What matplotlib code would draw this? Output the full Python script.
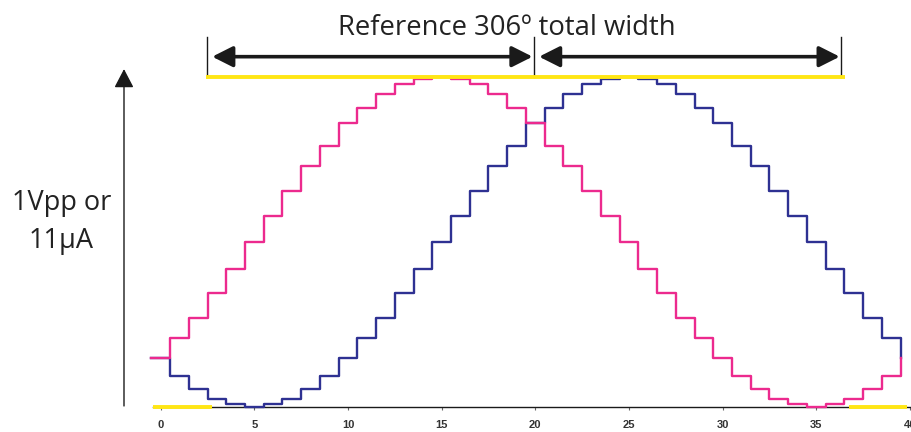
import numpy as np
import matplotlib
matplotlib.use("Agg")
import matplotlib.pyplot as plt

# ---- data (normalised amplitude, 1 = 1Vpp / 11uA) ----
sample_index = list(range(41))
pink_values = [0.15, 0.21, 0.27, 0.345, 0.42, 0.50, 0.58, 0.655, 0.73, 0.79,
               0.86, 0.905, 0.95, 0.98, 0.995, 1.0, 0.995, 0.98, 0.95, 0.905,
               0.86, 0.79, 0.73, 0.655, 0.58, 0.50, 0.42, 0.345, 0.27, 0.21,
               0.15, 0.095, 0.055, 0.025, 0.01, 0.0, 0.01, 0.025, 0.055, 0.095,
               0.15]
blue_values = [0.15, 0.095, 0.055, 0.025, 0.01, 0.0, 0.01, 0.025, 0.055, 0.095,
               0.15, 0.21, 0.27, 0.345, 0.42, 0.50, 0.58, 0.655, 0.73, 0.79,
               0.86, 0.905, 0.95, 0.98, 0.995, 1.0, 0.995, 0.98, 0.95, 0.905,
               0.86, 0.79, 0.73, 0.655, 0.58, 0.50, 0.42, 0.345, 0.27, 0.21,
               0.15]
x_ticks = [0, 5, 10, 15, 20, 25, 30, 35, 40]
ref_span = (2.4, 36.55)          # yellow reference band (top)
low_spans = [(-0.4, 2.75), (36.75, 39.85)]  # yellow marks on axis
marker_x = [2.49, 19.95, 36.32]  # vertical bars of dimension arrows
arrow1 = (2.75, 19.85)
arrow2 = (20.2, 36.25)
title_text = "Reference 306º total width"
ylabel_lines = ["1Vpp or", "11µA"]

PINK = "#EC2A8E"
BLUE = "#2E3192"
YELLOW = "#FFE614"
BLACK = "#1a1a1a"

fig = plt.figure(figsize=(9.12, 4.32), dpi=100)
ax = fig.add_axes([0, 0, 1, 1])
ax.set_xlim(-8.58, 40.11)
ax.set_ylim(-0.0748, 1.2331)

x = np.array(sample_index) - 0.5
ax.step(x, blue_values, where="post", color=BLUE, lw=1.7, zorder=3)
ax.step(x, pink_values, where="post", color=PINK, lw=1.7, zorder=4)

# yellow reference lines
ax.plot(ref_span, [1.0, 1.0], color=YELLOW, lw=2.8, solid_capstyle="butt", zorder=6)
for s in low_spans:
    ax.plot(s, [0, 0], color=YELLOW, lw=2.8, solid_capstyle="butt", zorder=6,
            clip_on=False)

# dimension bars and arrows
for mx in marker_x:
    ax.plot([mx, mx], [1.0, 1.122], color=BLACK, lw=1.0, zorder=5)
arrow_y = 1.0615
for a, b in (arrow1, arrow2):
    ax.annotate("", xy=(b, arrow_y), xytext=(a, arrow_y),
                arrowprops=dict(arrowstyle="<|-|>,head_length=12.5,head_width=6.3",
                                mutation_scale=1, lw=2.6, color=BLACK,
                                shrinkA=0, shrinkB=0), zorder=5)

ax.text(18.48, 1.127, title_text, ha="center", va="baseline",
        fontsize=19.8, family="Open Sans", color="#222222")

# y arrow and label
ax.annotate("", xy=(-1.96, 1.024), xytext=(-1.96, 0.004),
            arrowprops=dict(arrowstyle="-|>,head_length=11.5,head_width=6",
                            mutation_scale=1, lw=1.0, color=BLACK,
                            shrinkA=0, shrinkB=0), annotation_clip=False)
ax.text(-5.3, 0.597, ylabel_lines[0], ha="center", va="baseline",
        fontsize=19.5, family="Open Sans", color="#222222")
ax.text(-5.3, 0.481, ylabel_lines[1], ha="center", va="baseline",
        fontsize=19.5, family="Open Sans", color="#222222")

# x axis
for sp in ["left", "right", "top"]:
    ax.spines[sp].set_visible(False)
ax.spines["bottom"].set_position(("data", 0))
ax.spines["bottom"].set_bounds(-0.4, 40.11)
ax.spines["bottom"].set_linewidth(1.0)
ax.spines["bottom"].set_color(BLACK)
ax.set_yticks([])
ax.set_xticks(x_ticks)
ax.set_xticklabels([str(t) for t in x_ticks], fontsize=8, fontweight="bold",
                   family="Liberation Sans", color="#333333")
ax.tick_params(axis="x", direction="out", length=2.5, width=0.8,
               color="#666666", pad=6.5)

fig.savefig("out.png", dpi=100)
